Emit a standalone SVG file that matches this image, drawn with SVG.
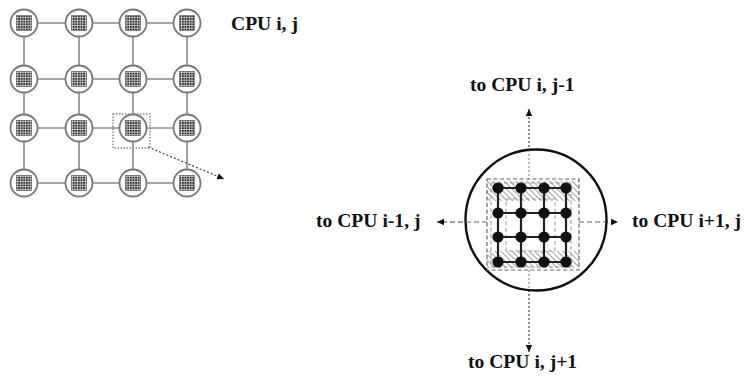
<svg xmlns="http://www.w3.org/2000/svg" width="744" height="380" viewBox="0 0 744 380">
<style>
.lbl{font-family:"Liberation Serif","Times New Roman",serif;font-weight:bold;font-size:19.6px;fill:#111}
.link{stroke:#8a8a8a;stroke-width:1.6;fill:none}
.cpu{fill:#fff;stroke:#777;stroke-width:1.8}
.mesh{fill:url(#meshpat);stroke:#555;stroke-width:0.6}
.dot{fill:#111}
.gl{stroke:#222;stroke-width:2.2}
.arr{stroke:#444;stroke-width:1.2;fill:none}
</style>
<defs>
<pattern id="meshpat" x="0" y="0" width="2.6" height="2.6" patternUnits="userSpaceOnUse">
<rect width="2.6" height="2.6" fill="#cfcfcf"/>
<rect width="1.8" height="1.8" fill="#2e2e2e"/>
</pattern>
<pattern id="hatch" width="4" height="4" patternUnits="userSpaceOnUse" patternTransform="rotate(-45)">
<rect width="4" height="4" fill="#fff"/>
<line x1="0" y1="0" x2="0" y2="4" stroke="#888" stroke-width="1.6"/>
</pattern>
<marker id="ah" markerWidth="8" markerHeight="8" refX="7" refY="4" orient="auto" markerUnits="userSpaceOnUse">
<path d="M0,0.8 L7,4 L0,7.2 Z" fill="#111"/>
</marker>
</defs>
<rect width="744" height="380" fill="#fff"/>
<g id="connectors">
<line class="link" x1="24" y1="23" x2="187" y2="23"/>
<line class="link" x1="24" y1="79" x2="187" y2="79"/>
<line class="link" x1="24" y1="128" x2="187" y2="128"/>
<line class="link" x1="24" y1="183" x2="187" y2="183"/>
<line class="link" x1="24" y1="23" x2="24" y2="183"/>
<line class="link" x1="79" y1="23" x2="79" y2="183"/>
<line class="link" x1="133" y1="23" x2="133" y2="183"/>
<line class="link" x1="187" y1="23" x2="187" y2="183"/>
<path class="arr" d="M148,147 L224,179" stroke-dasharray="2 2" marker-end="url(#ah)"/>
<path class="arr" d="M529,179 L529,109" stroke-dasharray="2 2" marker-end="url(#ah)"/>
<path class="arr" d="M529,270 L529,352" stroke-dasharray="2 2" marker-end="url(#ah)"/>
<path class="arr" d="M487,222 L437,222" stroke-dasharray="5 3" marker-end="url(#ah)"/>
<path class="arr" d="M579,222 L618,222" stroke-dasharray="5 3" marker-end="url(#ah)"/>
</g>
<g id="grid-cpus">
<g id="cpu-1-1"><circle class="cpu" cx="24" cy="23" r="13.5"/><rect class="mesh" x="16.5" y="15.5" width="15" height="15"/></g>
<g id="cpu-2-1"><circle class="cpu" cx="79" cy="23" r="13.5"/><rect class="mesh" x="71.5" y="15.5" width="15" height="15"/></g>
<g id="cpu-3-1"><circle class="cpu" cx="133" cy="23" r="13.5"/><rect class="mesh" x="125.5" y="15.5" width="15" height="15"/></g>
<g id="cpu-4-1"><circle class="cpu" cx="187" cy="23" r="13.5"/><rect class="mesh" x="179.5" y="15.5" width="15" height="15"/></g>
<g id="cpu-1-2"><circle class="cpu" cx="24" cy="79" r="13.5"/><rect class="mesh" x="16.5" y="71.5" width="15" height="15"/></g>
<g id="cpu-2-2"><circle class="cpu" cx="79" cy="79" r="13.5"/><rect class="mesh" x="71.5" y="71.5" width="15" height="15"/></g>
<g id="cpu-3-2"><circle class="cpu" cx="133" cy="79" r="13.5"/><rect class="mesh" x="125.5" y="71.5" width="15" height="15"/></g>
<g id="cpu-4-2"><circle class="cpu" cx="187" cy="79" r="13.5"/><rect class="mesh" x="179.5" y="71.5" width="15" height="15"/></g>
<g id="cpu-1-3"><circle class="cpu" cx="24" cy="128" r="13.5"/><rect class="mesh" x="16.5" y="120.5" width="15" height="15"/></g>
<g id="cpu-2-3"><circle class="cpu" cx="79" cy="128" r="13.5"/><rect class="mesh" x="71.5" y="120.5" width="15" height="15"/></g>
<g id="cpu-3-3"><circle class="cpu" cx="133" cy="128" r="13.5"/><rect class="mesh" x="125.5" y="120.5" width="15" height="15"/></g>
<g id="cpu-4-3"><circle class="cpu" cx="187" cy="128" r="13.5"/><rect class="mesh" x="179.5" y="120.5" width="15" height="15"/></g>
<g id="cpu-1-4"><circle class="cpu" cx="24" cy="183" r="13.5"/><rect class="mesh" x="16.5" y="175.5" width="15" height="15"/></g>
<g id="cpu-2-4"><circle class="cpu" cx="79" cy="183" r="13.5"/><rect class="mesh" x="71.5" y="175.5" width="15" height="15"/></g>
<g id="cpu-3-4"><circle class="cpu" cx="133" cy="183" r="13.5"/><rect class="mesh" x="125.5" y="175.5" width="15" height="15"/></g>
<g id="cpu-4-4"><circle class="cpu" cx="187" cy="183" r="13.5"/><rect class="mesh" x="179.5" y="175.5" width="15" height="15"/></g>
<rect id="selection" x="113" y="114" width="37" height="34" fill="none" stroke="#888" stroke-width="1.4" stroke-dasharray="1.5 1.5"/>
</g>
<text class="lbl" x="231" y="30">CPU i, j</text>
<g id="cpu-detail">
<circle cx="536" cy="220" r="70.5" fill="#fff" stroke="#111" stroke-width="2.4"/>
<line x1="529" y1="150" x2="529" y2="179" stroke="#777" stroke-width="1" stroke-dasharray="2 2"/>
<line x1="529" y1="270" x2="529" y2="290" stroke="#777" stroke-width="1" stroke-dasharray="2 2"/>
<line x1="466" y1="222" x2="487" y2="222" stroke="#666" stroke-width="1" stroke-dasharray="5 3"/>
<line x1="579" y1="222" x2="606" y2="222" stroke="#666" stroke-width="1" stroke-dasharray="5 3"/>
<rect x="487" y="181" width="92" height="20" fill="url(#hatch)"/>
<rect x="487" y="251" width="92" height="17" fill="url(#hatch)"/>
<rect x="487" y="179" width="92" height="91" fill="none" stroke="#666" stroke-width="1.2" stroke-dasharray="4 2.5"/>
<rect x="491" y="183" width="80" height="84" fill="none" stroke="#999" stroke-width="1" stroke-dasharray="4 2.5"/>
<rect x="506" y="199" width="49" height="52" fill="none" stroke="#999" stroke-width="1" stroke-dasharray="4 2.5"/>
<g id="local-grid">
<line class="gl" x1="498" y1="188" x2="566" y2="188"/>
<line class="gl" x1="498" y1="213" x2="566" y2="213"/>
<line class="gl" x1="498" y1="237" x2="566" y2="237"/>
<line class="gl" x1="498" y1="262" x2="566" y2="262"/>
<line class="gl" x1="498" y1="188" x2="498" y2="262"/>
<line class="gl" x1="521" y1="188" x2="521" y2="262"/>
<line class="gl" x1="544" y1="188" x2="544" y2="262"/>
<line class="gl" x1="566" y1="188" x2="566" y2="262"/>
<circle class="dot" cx="498" cy="188" r="5.6"/><circle class="dot" cx="521" cy="188" r="5.6"/><circle class="dot" cx="544" cy="188" r="5.6"/><circle class="dot" cx="566" cy="188" r="5.6"/>
<circle class="dot" cx="498" cy="213" r="5.6"/><circle class="dot" cx="521" cy="213" r="5.6"/><circle class="dot" cx="544" cy="213" r="5.6"/><circle class="dot" cx="566" cy="213" r="5.6"/>
<circle class="dot" cx="498" cy="237" r="5.6"/><circle class="dot" cx="521" cy="237" r="5.6"/><circle class="dot" cx="544" cy="237" r="5.6"/><circle class="dot" cx="566" cy="237" r="5.6"/>
<circle class="dot" cx="498" cy="262" r="5.6"/><circle class="dot" cx="521" cy="262" r="5.6"/><circle class="dot" cx="544" cy="262" r="5.6"/><circle class="dot" cx="566" cy="262" r="5.6"/>
</g>
</g>
<text class="lbl" x="470" y="91">to CPU i, j-1</text>
<text class="lbl" x="316" y="227">to CPU i-1, j</text>
<text class="lbl" x="632" y="227">to CPU i+1, j</text>
<text class="lbl" x="468" y="368">to CPU i, j+1</text>
</svg>
